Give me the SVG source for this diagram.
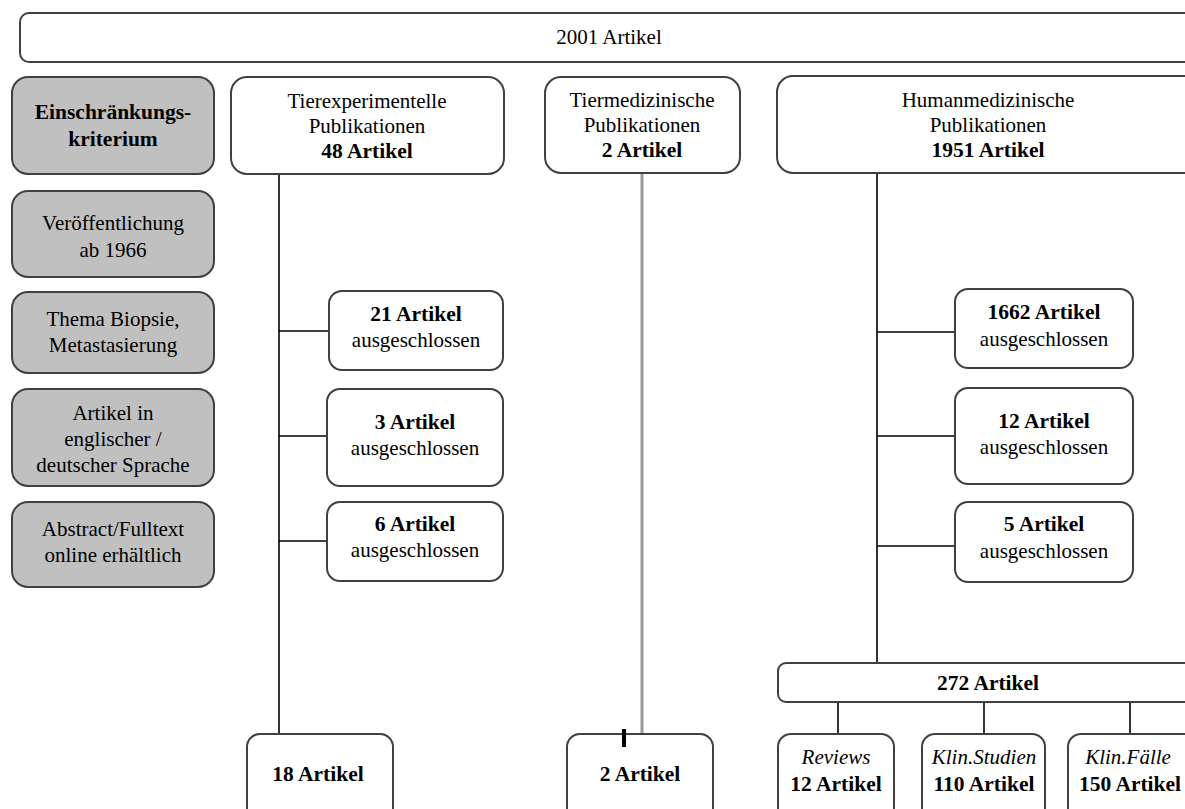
<svg xmlns="http://www.w3.org/2000/svg" width="1185" height="809" viewBox="0 0 1185 809">
<style>
.box{fill:#fff;stroke:#404040;stroke-width:2}
.crit{fill:#c0c0c0;stroke:#404040;stroke-width:2}
text{font-family:'Liberation Serif','Times New Roman','DejaVu Serif',serif;font-size:21px;fill:#000;text-anchor:middle}
.b{font-weight:bold;font-size:21.5px}
.i{font-style:italic}
.ln{stroke:#000;stroke-width:1.6;fill:none}
</style>
<rect x="0" y="0" width="1185" height="809" fill="#fff"/>
<g id="connectors">
<line class="ln" x1="279" y1="174" x2="279" y2="734"/>
<line class="ln" x1="279" y1="331" x2="329" y2="331"/>
<line class="ln" x1="279" y1="436" x2="327" y2="436"/>
<line class="ln" x1="279" y1="541" x2="327" y2="541"/>
<line x1="642" y1="172" x2="642" y2="734" stroke="#999" stroke-width="3"/>
<line class="ln" x1="877" y1="173" x2="877" y2="663"/>
<line class="ln" x1="877" y1="332" x2="955" y2="332"/>
<line class="ln" x1="877" y1="436" x2="955" y2="436"/>
<line class="ln" x1="877" y1="546" x2="955" y2="546"/>
<line class="ln" x1="838" y1="702" x2="838" y2="734"/>
<line class="ln" x1="984" y1="702" x2="984" y2="734"/>
<line class="ln" x1="1130" y1="702" x2="1130" y2="734"/>
</g>
<g id="total">
<rect class="box" x="20" y="13" width="1185" height="49" rx="9"/>
<text x="609" y="44">2001 Artikel</text>
</g>
<g id="crit-head">
<rect class="crit" x="12" y="77" width="202" height="97" rx="16"/>
<text class="b" x="113" y="119">Einschränkungs-</text>
<text class="b" x="113" y="146">kriterium</text>
</g>
<g id="crit-1">
<rect class="crit" x="12" y="191" width="202" height="86" rx="16"/>
<text x="113" y="230">Veröffentlichung</text>
<text x="113" y="257">ab 1966</text>
</g>
<g id="crit-2">
<rect class="crit" x="12" y="292" width="202" height="81" rx="16"/>
<text x="113" y="326">Thema Biopsie,</text>
<text x="113" y="352">Metastasierung</text>
</g>
<g id="crit-3">
<rect class="crit" x="12" y="389" width="202" height="97" rx="16"/>
<text x="113" y="420">Artikel in</text>
<text x="113" y="446">englischer /</text>
<text x="113" y="472">deutscher Sprache</text>
</g>
<g id="crit-4">
<rect class="crit" x="12" y="502" width="202" height="85" rx="16"/>
<text x="113" y="536">Abstract/Fulltext</text>
<text x="113" y="562">online erhältlich</text>
</g>
<g id="tierexp">
<rect class="box" x="231" y="77" width="273" height="97" rx="16"/>
<text x="367" y="108">Tierexperimentelle</text>
<text x="367" y="133">Publikationen</text>
<text class="b" x="367" y="158">48 Artikel</text>
</g>
<g id="tiermed">
<rect class="box" x="545" y="77" width="195" height="96" rx="16"/>
<text x="642" y="107">Tiermedizinische</text>
<text x="642" y="132">Publikationen</text>
<text class="b" x="642" y="157">2 Artikel</text>
</g>
<g id="humanmed">
<rect class="box" x="777" y="76" width="430" height="97" rx="16"/>
<text x="988" y="107">Humanmedizinische</text>
<text x="988" y="132">Publikationen</text>
<text class="b" x="988" y="157">1951 Artikel</text>
</g>
<g id="ex21">
<rect class="box" x="329" y="291" width="174" height="79" rx="13"/>
<text class="b" x="416" y="321">21 Artikel</text>
<text x="416" y="347">ausgeschlossen</text>
</g>
<g id="ex3">
<rect class="box" x="327" y="389" width="176" height="97" rx="13"/>
<text class="b" x="415" y="429">3 Artikel</text>
<text x="415" y="455">ausgeschlossen</text>
</g>
<g id="ex6">
<rect class="box" x="327" y="502" width="176" height="79" rx="13"/>
<text class="b" x="415" y="531">6 Artikel</text>
<text x="415" y="557">ausgeschlossen</text>
</g>
<g id="ex1662">
<rect class="box" x="955" y="289" width="178" height="79" rx="13"/>
<text class="b" x="1044" y="319">1662 Artikel</text>
<text x="1044" y="346">ausgeschlossen</text>
</g>
<g id="ex12">
<rect class="box" x="955" y="388" width="178" height="96" rx="13"/>
<text class="b" x="1044" y="428">12 Artikel</text>
<text x="1044" y="454">ausgeschlossen</text>
</g>
<g id="ex5">
<rect class="box" x="955" y="502" width="178" height="80" rx="13"/>
<text class="b" x="1044" y="531">5 Artikel</text>
<text x="1044" y="558">ausgeschlossen</text>
</g>
<g id="res18">
<rect class="box" x="247" y="734" width="146" height="90" rx="13"/>
<text class="b" x="318" y="781">18 Artikel</text>
</g>
<g id="res2">
<rect class="box" x="567" y="734" width="146" height="90" rx="13"/>
<text class="b" x="640" y="781">2 Artikel</text>
</g>
<g id="res272">
<rect class="box" x="778" y="663" width="430" height="39" rx="8"/>
<text class="b" x="988" y="690">272 Artikel</text>
</g>
<g id="reviews">
<rect class="box" x="778" y="734" width="116" height="90" rx="13"/>
<text class="i" x="836" y="764">Reviews</text>
<text class="b" x="836" y="791">12 Artikel</text>
</g>
<g id="klinstudien">
<rect class="box" x="922" y="734" width="123" height="90" rx="13"/>
<text class="i" x="984" y="764">Klin.Studien</text>
<text class="b" x="984" y="791">110 Artikel</text>
</g>
<g id="klinfaelle">
<rect class="box" x="1068" y="734" width="140" height="90" rx="13"/>
<text class="i" x="1128" y="764">Klin.Fälle</text>
<text class="b" x="1130" y="791">150 Artikel</text>
</g>
<g id="tick">
<line x1="624" y1="729" x2="624" y2="747" stroke="#000" stroke-width="4"/>
</g>
</svg>
